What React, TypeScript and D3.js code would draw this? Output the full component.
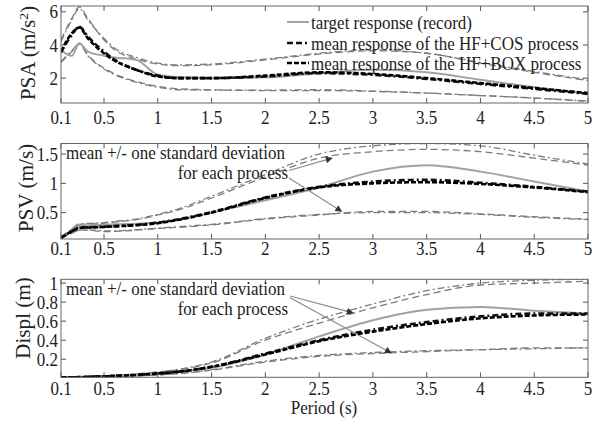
import React from "react";
import * as d3 from "d3";

// ---------- data ----------
const periods = [0.1, 0.2, 0.27, 0.35, 0.5, 0.6, 0.8, 1.0, 1.2, 1.5, 2.0, 2.5, 3.0, 3.5, 4.0, 4.5, 5.0];
const xTicks = [0.1, 0.5, 1, 1.5, 2, 2.5, 3, 3.5, 4, 4.5, 5];
const xTickLabels = ["0.1", "0.5", "1", "1.5", "2", "2.5", "3", "3.5", "4", "4.5", "5"];

// PSA (m/s^2)
const psaTarget = [3.7, 3.35, 4.1, 3.6, 3.35, 3.25, 3.1, 2.2, 2.05, 2.0, 2.05, 2.3, 2.5, 2.35, 1.9, 1.45, 1.05];
const psaMeanCos = [3.55, 4.6, 5.1, 4.5, 3.6, 3.1, 2.5, 2.15, 2.0, 2.0, 2.1, 2.3, 2.2, 1.95, 1.65, 1.35, 1.05];
const psaMeanBox = [3.6, 4.7, 5.05, 4.4, 3.5, 3.05, 2.5, 2.1, 2.0, 2.0, 2.15, 2.35, 2.25, 2.0, 1.7, 1.4, 1.1];
const psaUpperCos = [4.3, 5.6, 6.3, 5.6, 4.3, 3.7, 3.15, 2.85, 2.75, 2.8, 3.1, 3.45, 3.65, 3.5, 2.9, 2.35, 1.85];
const psaUpperBox = [4.2, 5.5, 6.2, 5.5, 4.4, 3.8, 3.25, 2.9, 2.8, 2.85, 3.15, 3.5, 3.7, 3.5, 2.95, 2.4, 1.9];
const psaLowerCos = [2.95, 3.6, 4.1, 3.4, 2.6, 2.25, 1.8, 1.5, 1.35, 1.3, 1.25, 1.25, 1.2, 1.1, 0.95, 0.8, 0.6];
const psaLowerBox = [3.0, 3.65, 4.05, 3.35, 2.55, 2.2, 1.75, 1.45, 1.3, 1.28, 1.28, 1.3, 1.22, 1.1, 0.95, 0.8, 0.62];
const psaTicks = [2, 4, 6];

// PSV (m/s)
const psvTarget = [0.07, 0.2, 0.28, 0.285, 0.29, 0.3, 0.31, 0.33, 0.38, 0.5, 0.71, 0.93, 1.2, 1.31, 1.2, 1.03, 0.86];
const psvMeanCos = [0.07, 0.18, 0.245, 0.25, 0.26, 0.27, 0.29, 0.33, 0.39, 0.51, 0.76, 0.94, 1.03, 1.06, 1.01, 0.94, 0.86];
const psvMeanBox = [0.07, 0.18, 0.24, 0.245, 0.255, 0.265, 0.285, 0.32, 0.38, 0.5, 0.75, 0.93, 1.0, 1.02, 0.99, 0.93, 0.85];
const psvUpperCos = [0.08, 0.22, 0.3, 0.305, 0.32, 0.34, 0.38, 0.46, 0.55, 0.75, 1.11, 1.43, 1.54, 1.58, 1.54, 1.43, 1.31];
const psvUpperBox = [0.08, 0.22, 0.31, 0.315, 0.33, 0.35, 0.39, 0.47, 0.57, 0.78, 1.15, 1.5, 1.64, 1.68, 1.64, 1.48, 1.33];
const psvLowerCos = [0.06, 0.15, 0.2, 0.2, 0.175, 0.18, 0.2, 0.23, 0.25, 0.29, 0.39, 0.46, 0.52, 0.52, 0.48, 0.43, 0.39];
const psvLowerBox = [0.06, 0.15, 0.2, 0.205, 0.19, 0.19, 0.21, 0.235, 0.26, 0.3, 0.4, 0.47, 0.5, 0.5, 0.47, 0.42, 0.38];
const psvTicks = [0.5, 1, 1.5];

// Displacement (m)
const dispTarget = [0.01, 0.01, 0.012, 0.016, 0.022, 0.027, 0.037, 0.05, 0.07, 0.11, 0.25, 0.44, 0.61, 0.72, 0.75, 0.71, 0.68];
const dispMeanCos = [0.01, 0.01, 0.012, 0.015, 0.02, 0.025, 0.035, 0.05, 0.07, 0.12, 0.26, 0.4, 0.51, 0.59, 0.65, 0.68, 0.68];
const dispMeanBox = [0.01, 0.01, 0.012, 0.015, 0.02, 0.025, 0.035, 0.05, 0.07, 0.12, 0.25, 0.39, 0.49, 0.57, 0.63, 0.66, 0.67];
const dispUpperCos = [0.01, 0.012, 0.015, 0.018, 0.025, 0.03, 0.045, 0.065, 0.09, 0.16, 0.4, 0.58, 0.74, 0.88, 0.98, 1.0, 1.02];
const dispUpperBox = [0.01, 0.012, 0.015, 0.018, 0.025, 0.03, 0.045, 0.065, 0.095, 0.17, 0.42, 0.62, 0.78, 0.92, 1.0, 1.03, 1.04];
const dispLowerCos = [0.01, 0.01, 0.01, 0.012, 0.015, 0.018, 0.025, 0.035, 0.05, 0.085, 0.17, 0.23, 0.26, 0.28, 0.3, 0.32, 0.32];
const dispLowerBox = [0.01, 0.01, 0.01, 0.012, 0.015, 0.018, 0.025, 0.035, 0.05, 0.09, 0.18, 0.24, 0.27, 0.29, 0.3, 0.31, 0.32];
const dispTicks = [0.2, 0.4, 0.6, 0.8, 1];

const legendLabels = [
  "target response (record)",
  "mean response of the HF+COS process",
  "mean response of the HF+BOX process",
];
const noteLine1 = "mean +/- one standard deviation";
const noteLine2 = "for each process";

// arrows: [fromX, fromY, toX, toY] in data units
const psvArrows = [
  [2.22, 1.22, 2.62, 1.43],
  [2.22, 1.09, 2.71, 0.52],
];
const dispArrows = [
  [2.23, 0.865, 2.815, 0.687],
  [2.23, 0.845, 3.17, 0.266],
];

// ---------- layout / styles ----------
const W = 602;
const H = 421;
const LEFT = 61;
const RIGHT = 588;
const FONT = "'Liberation Serif', 'DejaVu Serif', serif";
const FS = 17;
const SY = 1.12; // vertical stretch of the glyphs
const x = d3.scaleLinear().domain([0.1, 5]).range([LEFT, RIGHT]);

const STY = {
  std: { stroke: "#7c7c7c", width: 1.3, dash: "7,4" },
  std2: { stroke: "#7c7c7c", width: 1.3, dash: "7,3,2,3" },
  target: { stroke: "#a2a2a2", width: 2, dash: undefined as string | undefined },
  cos: { stroke: "#111", width: 2.6, dash: "6,3,6,3,2,3" },
  box: { stroke: "#000", width: 2.6, dash: "5,2" },
};

type Series = { values: number[]; style: { stroke: string; width: number; dash?: string } };

function T({
  x: tx,
  y: ty,
  anchor = "start",
  children,
}: {
  x: number;
  y: number;
  anchor?: "start" | "middle" | "end";
  children: React.ReactNode;
}) {
  return (
    <text
      transform={`translate(${tx},${ty}) scale(1,${SY})`}
      dy="0.35em"
      textAnchor={anchor}
      fontFamily={FONT}
      fontSize={FS}
      fill="#222"
    >
      {children}
    </text>
  );
}

function VT({ x: tx, y: ty, children }: { x: number; y: number; children: React.ReactNode }) {
  return (
    <text
      transform={`translate(${tx},${ty}) rotate(-90) scale(1.06,1)`}
      dy="0.35em"
      textAnchor="middle"
      fontFamily={FONT}
      fontSize={20}
      fill="#222"
    >
      {children}
    </text>
  );
}

type PanelProps = {
  id: string;
  top: number;
  bottom: number;
  domain: [number, number];
  ticks: number[];
  series: Series[];
  xLabelY: number;
  renderExtra?: (y: d3.ScaleLinear<number, number>) => React.ReactNode;
};

function Panel({ id, top, bottom, domain, ticks, series, xLabelY, renderExtra }: PanelProps) {
  const y = d3.scaleLinear().domain(domain).range([bottom, top]);
  const line = d3
    .line<number>()
    .x((_, i) => x(periods[i]))
    .y((d) => y(d))
    .curve(d3.curveMonotoneX);
  const TL = 5;
  return (
    <g>
      <defs>
        <clipPath id={`clip-${id}`}>
          <rect x={LEFT} y={top} width={RIGHT - LEFT} height={bottom - top} />
        </clipPath>
      </defs>
      <rect x={LEFT} y={top} width={RIGHT - LEFT} height={bottom - top} fill="#fff" />
      <g clipPath={`url(#clip-${id})`}>
        {series.map((s, i) => (
          <path
            key={i}
            d={line(s.values) || ""}
            fill="none"
            stroke={s.style.stroke}
            strokeWidth={s.style.width}
            strokeDasharray={s.style.dash}
          />
        ))}
      </g>
      {renderExtra && renderExtra(y)}
      {xTicks.map((t, i) => (
        <g key={`xt${i}`}>
          <line x1={x(t)} x2={x(t)} y1={bottom} y2={bottom - TL} stroke="#555" strokeWidth={1} />
          <line x1={x(t)} x2={x(t)} y1={top} y2={top + TL} stroke="#555" strokeWidth={1} />
          <T x={x(t)} y={xLabelY} anchor="middle">
            {xTickLabels[i]}
          </T>
        </g>
      ))}
      {ticks.map((t, i) => (
        <g key={`yt${i}`}>
          <line x1={LEFT} x2={LEFT + TL} y1={y(t)} y2={y(t)} stroke="#555" strokeWidth={1} />
          <line x1={RIGHT} x2={RIGHT - TL} y1={y(t)} y2={y(t)} stroke="#555" strokeWidth={1} />
          <T x={LEFT - 3} y={y(t)} anchor="end">
            {String(t)}
          </T>
        </g>
      ))}
      <rect
        x={LEFT}
        y={top}
        width={RIGHT - LEFT}
        height={bottom - top}
        fill="none"
        stroke="#666"
        strokeWidth={1}
      />
    </g>
  );
}

function Note({ top }: { top: number }) {
  return (
    <g>
      <T x={LEFT + 5} y={top + 9}>
        {noteLine1}
      </T>
      <T x={288} y={top + 29} anchor="end">
        {noteLine2}
      </T>
    </g>
  );
}

function Arrows({ arrows, y }: { arrows: number[][]; y: d3.ScaleLinear<number, number> }) {
  return (
    <g>
      {arrows.map((a, i) => (
        <line
          key={i}
          x1={x(a[0])}
          y1={y(a[1])}
          x2={x(a[2])}
          y2={y(a[3])}
          stroke="#8a8a8a"
          strokeWidth={1.1}
          markerEnd="url(#arrowHead)"
        />
      ))}
    </g>
  );
}

export default function App() {
  const mk = (u1: number[], u2: number[], l1: number[], l2: number[], t: number[], mc: number[], mb: number[]): Series[] => [
    { values: u1, style: STY.std },
    { values: u2, style: STY.std2 },
    { values: l1, style: STY.std },
    { values: l2, style: STY.std2 },
    { values: t, style: STY.target },
    { values: mc, style: STY.cos },
    { values: mb, style: STY.box },
  ];
  const psaSeries = mk(psaUpperCos, psaUpperBox, psaLowerCos, psaLowerBox, psaTarget, psaMeanCos, psaMeanBox);
  const psvSeries = mk(psvUpperCos, psvUpperBox, psvLowerCos, psvLowerBox, psvTarget, psvMeanCos, psvMeanBox);
  const dispSeries = mk(dispUpperCos, dispUpperBox, dispLowerCos, dispLowerBox, dispTarget, dispMeanCos, dispMeanBox);
  const legendStyles = [STY.target, STY.cos, STY.box];
  const legendY = [22, 43, 63];

  return (
    <svg
      width={W}
      height={H}
      viewBox={`0 0 ${W} ${H}`}
      style={{ position: "absolute", left: 0, top: 0, background: "#fff" }}
    >
      <defs>
        <marker
          id="arrowHead"
          viewBox="0 0 10 10"
          refX="9"
          refY="5"
          markerWidth="7"
          markerHeight="7"
          markerUnits="userSpaceOnUse"
          orient="auto"
        >
          <path d="M0,0 L10,5 L0,10 z" fill="#333" />
        </marker>
      </defs>
      <rect x={0} y={0} width={W} height={H} fill="#fff" />

      <Panel id="psa" top={6} bottom={103} domain={[0.5, 6.35]} ticks={psaTicks} series={psaSeries} xLabelY={117} />
      <Panel
        id="psv"
        top={143.5}
        bottom={239}
        domain={[0.05, 1.68]}
        ticks={psvTicks}
        series={psvSeries}
        xLabelY={248}
        renderExtra={(y) => <Arrows arrows={psvArrows} y={y} />}
      />
      <Panel
        id="disp"
        top={279.3}
        bottom={377.3}
        domain={[0.01, 1.04]}
        ticks={dispTicks}
        series={dispSeries}
        xLabelY={388}
        renderExtra={(y) => <Arrows arrows={dispArrows} y={y} />}
      />

      {legendLabels.map((lab, i) => (
        <g key={i}>
          <line
            x1={287}
            x2={309}
            y1={legendY[i]}
            y2={legendY[i]}
            stroke={legendStyles[i].stroke}
            strokeWidth={legendStyles[i].width}
            strokeDasharray={legendStyles[i].dash}
          />
          <T x={311} y={legendY[i]}>
            {lab}
          </T>
        </g>
      ))}

      <Note top={143.5} />
      <Note top={279.3} />

      <VT x={28} y={53}>
        PSA (m/s
        <tspan baselineShift="super" fontSize={13}>
          2
        </tspan>
        )
      </VT>
      <VT x={26} y={188}>
        PSV (m/s)
      </VT>
      <VT x={23} y={318}>
        Displ (m)
      </VT>
      <T x={324} y={407} anchor="middle">
        Period (s)
      </T>
    </svg>
  );
}
